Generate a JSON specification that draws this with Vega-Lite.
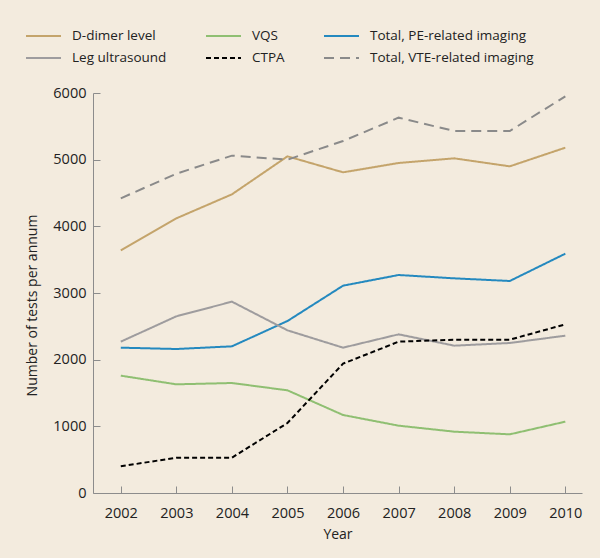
{
  "$schema": "https://vega.github.io/schema/vega-lite/v6.json",
  "width": 489,
  "height": 400,
  "autosize": {"type": "none"},
  "padding": {"left": 93, "top": 93, "right": 18, "bottom": 65},
  "background": "#f3ebde",
  "config": {
    "view": {"stroke": null},
    "font": "Open Sans",
    "axis": {
      "grid": false,
      "domainColor": "#8c8c8c",
      "tickColor": "#8c8c8c",
      "labelColor": "#222222",
      "titleColor": "#222222",
      "labelFontSize": 14.5,
      "titleFontSize": 14,
      "titleFontWeight": "normal",
      "labelFont": "Open Sans",
      "titleFont": "Open Sans"
    },
    "legend": {"labelFont": "Open Sans"}
  },
  "data": {
    "values": [
      {"Year": 2002, "Series": "D-dimer level", "Tests": 3640},
      {"Year": 2003, "Series": "D-dimer level", "Tests": 4120},
      {"Year": 2004, "Series": "D-dimer level", "Tests": 4480},
      {"Year": 2005, "Series": "D-dimer level", "Tests": 5050},
      {"Year": 2006, "Series": "D-dimer level", "Tests": 4810},
      {"Year": 2007, "Series": "D-dimer level", "Tests": 4950},
      {"Year": 2008, "Series": "D-dimer level", "Tests": 5020},
      {"Year": 2009, "Series": "D-dimer level", "Tests": 4900},
      {"Year": 2010, "Series": "D-dimer level", "Tests": 5180},
      {"Year": 2002, "Series": "VQS", "Tests": 1760},
      {"Year": 2003, "Series": "VQS", "Tests": 1630},
      {"Year": 2004, "Series": "VQS", "Tests": 1650},
      {"Year": 2005, "Series": "VQS", "Tests": 1540},
      {"Year": 2006, "Series": "VQS", "Tests": 1170},
      {"Year": 2007, "Series": "VQS", "Tests": 1010},
      {"Year": 2008, "Series": "VQS", "Tests": 920},
      {"Year": 2009, "Series": "VQS", "Tests": 880},
      {"Year": 2010, "Series": "VQS", "Tests": 1070},
      {"Year": 2002, "Series": "Total, PE-related imaging", "Tests": 2180},
      {"Year": 2003, "Series": "Total, PE-related imaging", "Tests": 2160},
      {"Year": 2004, "Series": "Total, PE-related imaging", "Tests": 2200},
      {"Year": 2005, "Series": "Total, PE-related imaging", "Tests": 2580},
      {"Year": 2006, "Series": "Total, PE-related imaging", "Tests": 3110},
      {"Year": 2007, "Series": "Total, PE-related imaging", "Tests": 3270},
      {"Year": 2008, "Series": "Total, PE-related imaging", "Tests": 3220},
      {"Year": 2009, "Series": "Total, PE-related imaging", "Tests": 3180},
      {"Year": 2010, "Series": "Total, PE-related imaging", "Tests": 3590},
      {"Year": 2002, "Series": "Leg ultrasound", "Tests": 2270},
      {"Year": 2003, "Series": "Leg ultrasound", "Tests": 2650},
      {"Year": 2004, "Series": "Leg ultrasound", "Tests": 2870},
      {"Year": 2005, "Series": "Leg ultrasound", "Tests": 2440},
      {"Year": 2006, "Series": "Leg ultrasound", "Tests": 2180},
      {"Year": 2007, "Series": "Leg ultrasound", "Tests": 2380},
      {"Year": 2008, "Series": "Leg ultrasound", "Tests": 2210},
      {"Year": 2009, "Series": "Leg ultrasound", "Tests": 2250},
      {"Year": 2010, "Series": "Leg ultrasound", "Tests": 2360},
      {"Year": 2002, "Series": "CTPA", "Tests": 400},
      {"Year": 2003, "Series": "CTPA", "Tests": 530},
      {"Year": 2004, "Series": "CTPA", "Tests": 530},
      {"Year": 2005, "Series": "CTPA", "Tests": 1050},
      {"Year": 2006, "Series": "CTPA", "Tests": 1940},
      {"Year": 2007, "Series": "CTPA", "Tests": 2270},
      {"Year": 2008, "Series": "CTPA", "Tests": 2300},
      {"Year": 2009, "Series": "CTPA", "Tests": 2300},
      {"Year": 2010, "Series": "CTPA", "Tests": 2530},
      {"Year": 2002, "Series": "Total, VTE-related imaging", "Tests": 4420},
      {"Year": 2003, "Series": "Total, VTE-related imaging", "Tests": 4790},
      {"Year": 2004, "Series": "Total, VTE-related imaging", "Tests": 5060},
      {"Year": 2005, "Series": "Total, VTE-related imaging", "Tests": 5000},
      {"Year": 2006, "Series": "Total, VTE-related imaging", "Tests": 5280},
      {"Year": 2007, "Series": "Total, VTE-related imaging", "Tests": 5630},
      {"Year": 2008, "Series": "Total, VTE-related imaging", "Tests": 5430},
      {"Year": 2009, "Series": "Total, VTE-related imaging", "Tests": 5430},
      {"Year": 2010, "Series": "Total, VTE-related imaging", "Tests": 5950}
    ]
  },
  "mark": {"type": "line", "strokeWidth": 2},
  "encoding": {
    "x": {
      "field": "Year",
      "type": "quantitative",
      "scale": {"domain": [2001.5, 2010.3], "nice": false, "zero": false},
      "axis": {
        "values": [2002, 2003, 2004, 2005, 2006, 2007, 2008, 2009, 2010],
        "format": "d",
        "tickSize": -7,
        "labelPadding": 20,
        "titlePadding": 8
      }
    },
    "y": {
      "field": "Tests",
      "type": "quantitative",
      "scale": {"domain": [0, 6000], "nice": false},
      "title": "Number of tests per annum",
      "axis": {
        "values": [0, 1000, 2000, 3000, 4000, 5000, 6000],
        "format": "d",
        "tickSize": -7,
        "labelPadding": 14,
        "titleX": -54,
        "titleY": 212
      }
    },
    "color": {
      "field": "Series",
      "type": "nominal",
      "title": null,
      "scale": {
        "domain": ["D-dimer level", "Leg ultrasound", "VQS", "CTPA", "Total, PE-related imaging", "Total, VTE-related imaging"],
        "range": ["#c4a46b", "#9e9c9e", "#8fbf72", "#000000", "#2489bf", "#8a8a8a"]
      },
      "legend": {
        "orient": "none",
        "legendX": -68,
        "legendY": -67,
        "columns": 3,
        "columnPadding": 38,
        "rowPadding": 2,
        "clipHeight": 20,
        "symbolType": "stroke",
        "symbolSize": 1225,
        "symbolStrokeWidth": 2,
        "labelFontSize": 13.5,
        "labelColor": "#222222",
        "labelOffset": 10,
        "labelLimit": 300
      }
    },
    "strokeDash": {
      "field": "Series",
      "type": "nominal",
      "title": null,
      "scale": {
        "domain": ["D-dimer level", "Leg ultrasound", "VQS", "CTPA", "Total, PE-related imaging", "Total, VTE-related imaging"],
        "range": [[1, 0], [1, 0], [1, 0], [5, 3], [1, 0], [10, 6]]
      }
    }
  }
}
